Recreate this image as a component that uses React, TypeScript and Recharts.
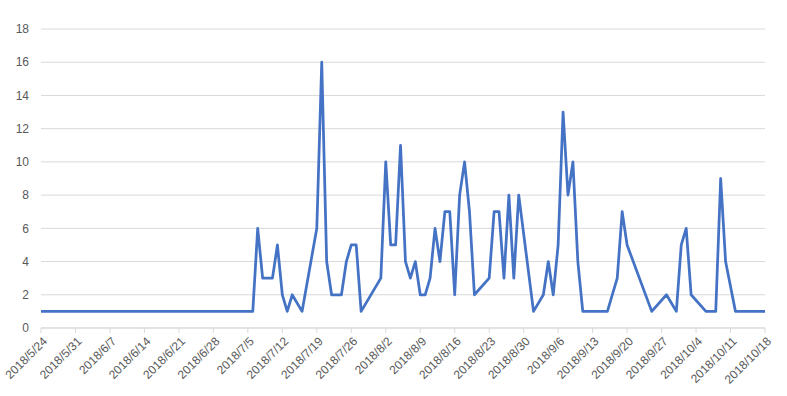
import React from 'react';
import { LineChart, Line, XAxis, YAxis, CartesianGrid } from 'recharts';

const dates: string[] = [
  '2018/5/24', '2018/7/6', '2018/7/7', '2018/7/8', '2018/7/9', '2018/7/10', '2018/7/11', '2018/7/12',
  '2018/7/13', '2018/7/14', '2018/7/16', '2018/7/19', '2018/7/20', '2018/7/21', '2018/7/22', '2018/7/23',
  '2018/7/24', '2018/7/25', '2018/7/26', '2018/7/27', '2018/7/28', '2018/8/1', '2018/8/2', '2018/8/3',
  '2018/8/4', '2018/8/5', '2018/8/6', '2018/8/7', '2018/8/8', '2018/8/9', '2018/8/10', '2018/8/11',
  '2018/8/12', '2018/8/13', '2018/8/14', '2018/8/15', '2018/8/16', '2018/8/17', '2018/8/18', '2018/8/19',
  '2018/8/20', '2018/8/23', '2018/8/24', '2018/8/25', '2018/8/26', '2018/8/27', '2018/8/28', '2018/8/29',
  '2018/9/1', '2018/9/3', '2018/9/4', '2018/9/5', '2018/9/6', '2018/9/7', '2018/9/8', '2018/9/9',
  '2018/9/10', '2018/9/11', '2018/9/16', '2018/9/18', '2018/9/19', '2018/9/20', '2018/9/25', '2018/9/28',
  '2018/9/30', '2018/10/1', '2018/10/2', '2018/10/3', '2018/10/6', '2018/10/8', '2018/10/9', '2018/10/10',
  '2018/10/12', '2018/10/18',
];

const values: number[] = [
  1, 1, 6, 3, 3, 3, 5, 2,
  1, 2, 1, 6, 16, 4, 2, 2,
  2, 4, 5, 5, 1, 3, 10, 5,
  5, 11, 4, 3, 4, 2, 2, 3,
  6, 4, 7, 7, 2, 8, 10, 7,
  2, 3, 7, 7, 3, 8, 3, 8,
  1, 2, 4, 2, 5, 13, 8, 10,
  4, 1, 1, 3, 7, 5, 1, 2,
  1, 5, 6, 2, 1, 1, 9, 4,
  1, 1,
];

const tickLabels: string[] = [
  '2018/5/24', '2018/5/31', '2018/6/7', '2018/6/14', '2018/6/21', '2018/6/28', '2018/7/5',
  '2018/7/12', '2018/7/19', '2018/7/26', '2018/8/2', '2018/8/9', '2018/8/16', '2018/8/23',
  '2018/8/30', '2018/9/6', '2018/9/13', '2018/9/20', '2018/9/27', '2018/10/4', '2018/10/11',
  '2018/10/18',
];

const yTicks: number[] = [0, 2, 4, 6, 8, 10, 12, 14, 16, 18];

const toDay = (s: string): number => {
  const [y, m, d] = s.split('/').map(Number);
  return Math.round((Date.UTC(y, m - 1, d) - Date.UTC(2018, 4, 24)) / 86400000);
};

const data = dates.map((d, i) => ({ day: toDay(d), value: values[i] }));
const xTicks = tickLabels.map(toDay);
const labelByDay: Record<number, string> = {};
tickLabels.forEach((l) => { labelByDay[toDay(l)] = l; });

const FONT = '"Liberation Sans", Arial, sans-serif';

const XTick = (props: any) => {
  const { x, y, payload } = props;
  return (
    <g transform={`translate(${x + 4},${y + 4})`}>
      <text
        x={0}
        y={0}
        dy="0.35em"
        textAnchor="end"
        transform="rotate(-45)"
        fill="#595959"
        fontSize={12}
        fontFamily={FONT}
      >
        {labelByDay[payload.value]}
      </text>
    </g>
  );
};

export default function App() {
  return (
    <div style={{ position: 'absolute', left: 0, top: 0, background: '#fff' }}>
      <LineChart
        width={787}
        height={396}
        data={data}
        margin={{ top: 29, right: 22, bottom: 0, left: 0 }}
      >
        <CartesianGrid vertical={false} stroke="#d9d9d9" strokeWidth={1} />
        <XAxis
          dataKey="day"
          type="number"
          domain={[0, 147]}
          ticks={xTicks}
          interval={0}
          allowDataOverflow
          stroke="#d9d9d9"
          tickSize={5}
          tick={<XTick />}
          height={68}
        />
        <YAxis
          domain={[0, 18]}
          ticks={yTicks}
          interval={0}
          axisLine={false}
          tickLine={false}
          tickSize={0}
          tickMargin={12}
          width={41}
          tick={{ fill: '#595959', fontSize: 12, fontFamily: FONT }}
        />
        <Line
          type="linear"
          dataKey="value"
          stroke="#4472C4"
          strokeWidth={2.75}
          strokeLinejoin="round"
          strokeLinecap="round"
          dot={false}
          isAnimationActive={false}
        />
      </LineChart>
    </div>
  );
}
